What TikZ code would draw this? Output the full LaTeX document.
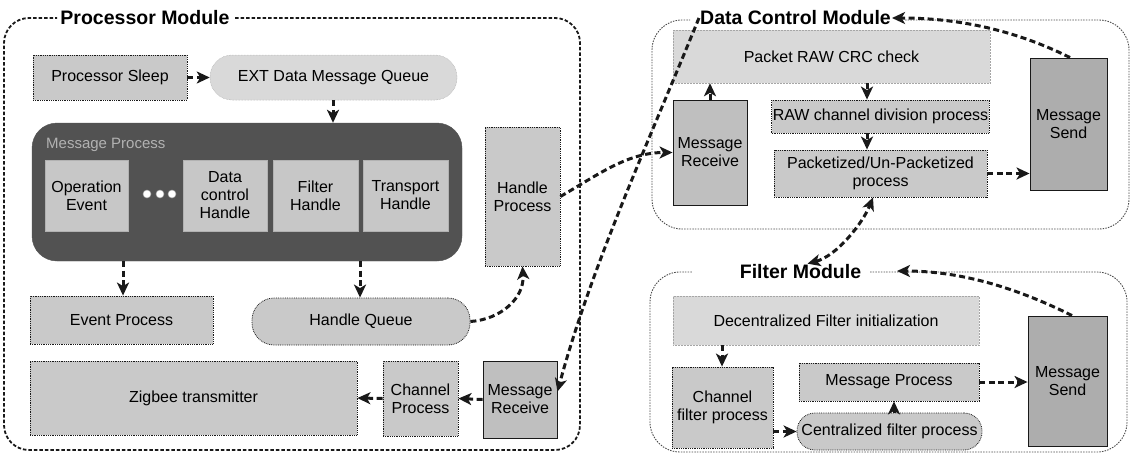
\documentclass[tikz,border=0pt]{standalone}
\usepackage{fontspec}
\setmainfont{Liberation Sans}
\usetikzlibrary{arrows.meta}
\definecolor{boxfill}{gray}{0.79}
\definecolor{lightfill}{gray}{0.85}
\definecolor{sendfill}{gray}{0.68}
\definecolor{recvfill}{gray}{0.75}
\definecolor{darkfill}{gray}{0.32}
\definecolor{innerfill}{gray}{0.78}
\definecolor{inkc}{gray}{0.10}
\newcommand{\lblfont}{\fontsize{16}{18}\selectfont}
\tikzset{
  pbox/.style={draw=inkc, densely dotted, line width=0.8pt, fill=boxfill, inner sep=1pt, align=center, font=\lblfont},
  softbox/.style={fill=lightfill, draw=gray!70, densely dotted, line width=0.5pt, inner sep=1pt, align=center, font=\lblfont},
  recvbox/.style={draw=inkc, line width=0.9pt, fill=recvfill, inner sep=1pt, align=center, font=\lblfont},
  sendbox/.style={draw=inkc, line width=0.9pt, fill=sendfill, inner sep=1pt, align=center, font=\lblfont},
  queuebox/.style={pbox, rounded corners=20pt},
  softqueue/.style={softbox, rounded corners=22pt},
  innerbox/.style={fill=innerfill, draw=gray!60, line width=0.5pt, inner sep=1pt, align=center, font=\lblfont},
  darkbox/.style={fill=darkfill, draw=darkfill, rounded corners=25pt},
  flow/.style={draw=inkc, line width=3pt, dash pattern=on 6pt off 3.5pt, -{Stealth[length=13pt,width=12pt,inset=3.5pt]}},
  flowboth/.style={flow, {Stealth[length=13pt,width=12pt,inset=3.5pt]}-{Stealth[length=13pt,width=12pt,inset=3.5pt]}},
  modtitle/.style={font=\fontsize{19.5}{22}\selectfont\bfseries, inner sep=1pt},
  pframe/.style={draw=inkc, line width=1.8pt, dash pattern=on 3.5pt off 2pt, rounded corners=25pt},
  dframe/.style={draw=black!70, line width=0.9pt, dash pattern=on 1.5pt off 1.2pt, rounded corners=30pt}
}
\begin{document}
\begin{tikzpicture}[x=1pt,y=-1pt]
\useasboundingbox (0,0) rectangle (1137,458);

% ---------------- Processor Module ----------------
\draw[pframe] (235,18) -- (580,18) -- (580,450) -- (4,450) -- (4,18) -- (57,18);
\node[modtitle] (pmt) at (145,18) {Processor Module};

\node[pbox, minimum width=154pt, minimum height=45pt] (psleep) at (110,77.5) {Processor Sleep};
\node[softqueue, minimum width=247pt, minimum height=45pt] (extq) at (333.5,77.5) {EXT Data Message Queue};

\node[darkbox, minimum width=430pt, minimum height=138pt] (mproc) at (247,192) {};
\node[anchor=west, inner sep=0pt, text=black!30, font=\fontsize{15}{17}\selectfont] (mplabel) at (46,145) {Message Process};

\node[innerbox, minimum width=83pt, minimum height=71pt] (opev) at (86.5,195.5) {Operation\\Event};
\node[innerbox, minimum width=84pt, minimum height=71pt] (dch) at (225,195.5) {Data\\control\\Handle};
\node[innerbox, minimum width=85pt, minimum height=71pt] (fh) at (315.5,195.5) {Filter\\Handle};
\node[innerbox, minimum width=85pt, minimum height=71pt] (th) at (405.5,195.5) {Transport\\Handle};
\fill[white, draw=gray!70, line width=0.5pt] (147,194) circle (4pt) (160,194) circle (4pt) (172,194) circle (4pt);

\node[pbox, minimum width=75pt, minimum height=139pt] (hproc) at (522.5,196.5) {Handle\\Process};
\node[pbox, minimum width=183pt, minimum height=48pt] (evp) at (121.5,320) {Event Process};
\node[queuebox, minimum width=218pt, minimum height=47pt, rounded corners=22pt] (hq) at (361,321.5) {Handle Queue};
\node[pbox, minimum width=327pt, minimum height=74pt] (zig) at (193.5,398) {Zigbee transmitter};
\node[pbox, minimum width=75pt, minimum height=75pt] (chp) at (420.5,398.5) {Channel\\Process};
\node[recvbox, minimum width=74pt, minimum height=77pt] (pmr) at (520,399.5) {Message\\Receive};

% ---------------- Data Control Module ----------------
\draw[dframe] (905,20) -- (1129,20) -- (1129,229) -- (652,229) -- (652,20) -- (690,20);
\node[modtitle] (dct) at (795.5,18) {Data Control Module};

\node[softbox, minimum width=317pt, minimum height=53pt] (pkt) at (831.5,56.5) {Packet RAW CRC check};
\node[recvbox, minimum width=74pt, minimum height=105pt] (dmr) at (710,152.5) {Message\\Receive};
\node[pbox, minimum width=213pt, minimum height=33pt] (raw) at (880.5,116.5) {RAW channel division process};
\node[pbox, minimum width=213pt, minimum height=47pt] (pack) at (880.5,173.5) {Packetized/Un-Packetized\\process};
\node[sendbox, minimum width=77pt, minimum height=132pt] (dms) at (1068.5,124) {Message\\Send};

% ---------------- Filter Module ----------------
\draw[dframe] (870,272) -- (1127,272) -- (1127,452) -- (650,452) -- (650,272) -- (692,272);
\node[modtitle] (ft) at (800.5,272) {Filter Module};

\node[softbox, minimum width=306pt, minimum height=49pt] (dec) at (826,320.5) {Decentralized Filter initialization};
\node[pbox, minimum width=101pt, minimum height=81pt] (cfp) at (722.5,407.5) {Channel\\filter process};
\node[pbox, minimum width=180pt, minimum height=38pt] (fmp) at (889,382) {Message Process};
\node[queuebox, minimum width=185pt, minimum height=37pt, rounded corners=18pt] (cen) at (889.5,431.5) {Centralized filter process};
\node[sendbox, minimum width=79pt, minimum height=130pt] (fms) at (1067.5,381) {Message\\Send};

% helper coordinates
\coordinate (ax1) at (867,0);
\coordinate (ax2) at (722,0);
\coordinate (ax3) at (894,0);
\coordinate (ax4) at (333,0);
\coordinate (ax5) at (123,0);
\coordinate (ax6) at (360,0);
\coordinate (ax7) at (873,0);
\coordinate (ftend) at (897,271);

% ---------------- connectors ----------------
\draw[flow] (psleep.east) -- (extq.west);
\draw[flow] (extq.south -| ax4) -- (mproc.north -| ax4);
\draw[flow] (mproc.south -| ax5) -- (evp.north -| ax5);
\draw[flow] (mproc.south -| ax6) -- (hq.north -| ax6);
\draw[flow] (hq.east) .. controls +(30,-2) and +(2,32) .. (hproc.south);
\draw[flow] (hproc.east) .. controls +(38,-22) and +(-45,0) .. (dmr.west);
\draw[flow] (pmr.west) -- (chp.east);
\draw[flow] (chp.west) -- (zig.east);
\draw[flow] (dct.west) .. controls +(-51,125) and +(34,-125) .. ([yshift=8pt]pmr.east);

\draw[flow] (dmr.north) -- (dmr.north |- pkt.south);
\draw[flow] (pkt.south -| ax1) -- (raw.north -| ax1);
\draw[flow] (raw.south -| ax1) -- (pack.north -| ax1);
\draw[flow] (pack.east) -- (pack.east -| dms.west);
\draw[flow] ([xshift=1.5pt]dms.north) .. controls +(-60,-30) and +(60,0) .. (dct.east);
\draw[flowboth] ([xshift=7pt]ft.north) .. controls +(30,-8) and +(-10,25) .. (pack.south -| ax7);

\draw[flow] (dec.south -| ax2) -- (cfp.north -| ax2);
\draw[flow] (cfp.east |- cen.west) -- (cen.west);
\draw[flow] (cen.north -| ax3) -- (fmp.south -| ax3);
\draw[flow] (fmp.east) -- (fmp.east -| fms.west);
\draw[flow] ([xshift=4.5pt]fms.north) .. controls +(-60,-30) and +(60,0) .. (ftend);
\end{tikzpicture}
\end{document}
